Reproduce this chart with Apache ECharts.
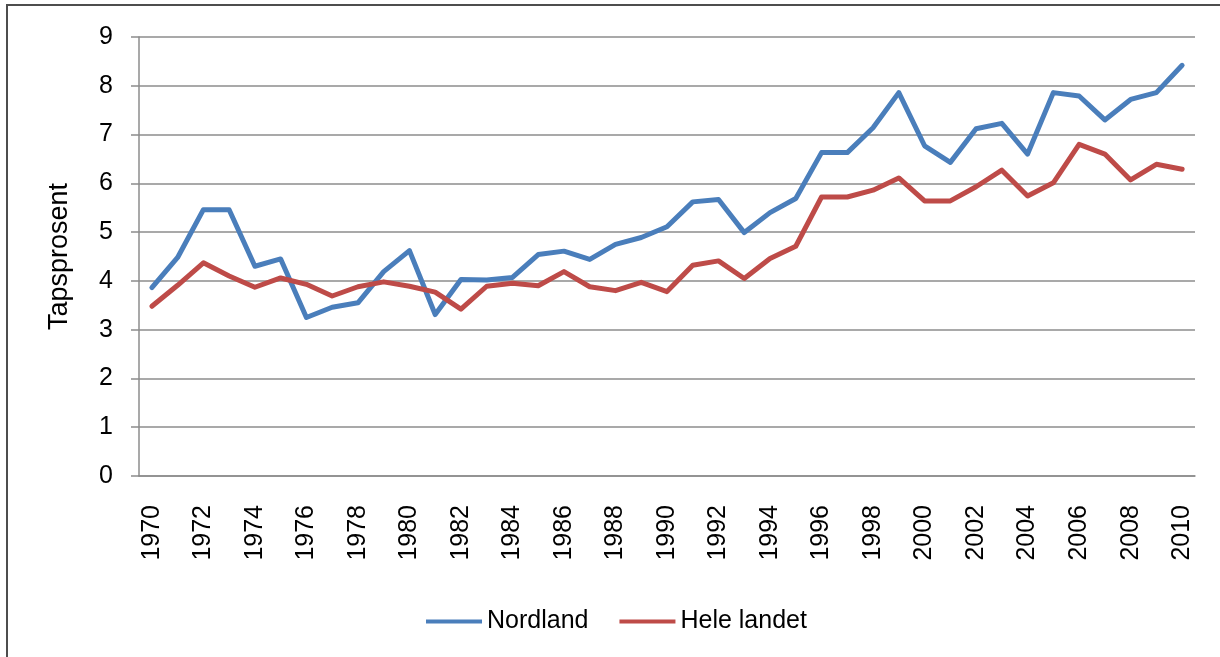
<!DOCTYPE html>
<html lang="no">

<head>
    <meta charset="UTF-8">
    <meta name="viewport" content="width=device-width, initial-scale=1.0">
    <script src="https://cdn.jsdelivr.net/npm/echarts@6.0.0/dist/echarts.min.js"></script>
    <title>Tapsprosent</title>
    <style>
        html, body { margin: 0; padding: 0; background: #fff; }
        #chart { width: 1220px; height: 657px; }
    </style>
</head>

<body>
    <div id="chart"></div>

    <script type="text/javascript">
        // årstall 1970-2010
        var years = [];
        for (var y = 1970; y <= 2010; y++) years.push(String(y));

        var nordland = [3.86, 4.48, 5.46, 5.46, 4.30, 4.45, 3.25, 3.46, 3.55, 4.19,
            4.62, 3.31, 4.03, 4.02, 4.07, 4.54, 4.61, 4.44, 4.75, 4.89,
            5.11, 5.62, 5.67, 4.99, 5.40, 5.69, 6.63, 6.63, 7.14, 7.86,
            6.77, 6.43, 7.12, 7.23, 6.60, 7.86, 7.79, 7.30, 7.72, 7.86,
            8.42];

        var heleLandet = [3.48, 3.91, 4.37, 4.10, 3.87, 4.06, 3.93, 3.69, 3.88, 3.98,
            3.89, 3.77, 3.42, 3.89, 3.95, 3.90, 4.19, 3.88, 3.80, 3.97,
            3.78, 4.32, 4.41, 4.05, 4.46, 4.71, 5.72, 5.72, 5.86, 6.11,
            5.64, 5.64, 5.93, 6.27, 5.74, 6.01, 6.80, 6.60, 6.07, 6.39,
            6.29];

        var font = 'Liberation Sans';
        var gridColor = '#8c8c8c';

        var chart = echarts.init(document.getElementById('chart'));

        var option = {
            animation: false,
            textStyle: { fontFamily: font },
            graphic: [{
                type: 'rect',
                shape: { x: 7, y: 5, width: 1300, height: 800 },
                style: { fill: 'none', stroke: '#4d4d4d', lineWidth: 2 },
                silent: true
            }],
            grid: {
                left: 139,
                right: 25,
                top: 37,
                bottom: 181
            },
            legend: {
                left: 421,
                top: 604,
                icon: 'rect',
                itemWidth: 56,
                itemHeight: 4,
                itemGap: 31,
                textStyle: { fontFamily: font, fontSize: 25, color: '#000', padding: [0, 0, 0, 0] },
                data: ['Nordland', 'Hele landet']
            },
            xAxis: {
                type: 'category',
                data: years,
                boundaryGap: true,
                axisLine: { lineStyle: { color: gridColor, width: 1.5 } },
                axisTick: {
                    interval: 0,
                    length: 8,
                    lineStyle: { color: gridColor, width: 1.5 }
                },
                axisLabel: {
                    interval: 1,
                    rotate: 90,
                    margin: 29,
                    color: '#000',
                    fontFamily: font,
                    fontSize: 25
                },
                splitLine: { show: false }
            },
            yAxis: {
                type: 'value',
                min: 0,
                max: 9,
                interval: 1,
                name: 'Tapsprosent',
                nameLocation: 'middle',
                nameGap: 66,
                nameTextStyle: { fontFamily: font, fontSize: 27, color: '#000' },
                axisLine: { show: true, lineStyle: { color: gridColor, width: 1.5 } },
                axisTick: {
                    show: true,
                    length: 8,
                    lineStyle: { color: gridColor, width: 1.5 }
                },
                axisLabel: {
                    margin: 26,
                    color: '#000',
                    fontFamily: font,
                    fontSize: 25
                },
                splitLine: { lineStyle: { color: gridColor, width: 1.5 } }
            },
            series: [
                {
                    name: 'Nordland',
                    type: 'line',
                    data: nordland,
                    symbol: 'none',
                    itemStyle: { color: '#4a7ebb' },
                    lineStyle: { color: '#4a7ebb', width: 5, join: 'round', cap: 'round' }
                },
                {
                    name: 'Hele landet',
                    type: 'line',
                    data: heleLandet,
                    symbol: 'none',
                    itemStyle: { color: '#be4b48' },
                    lineStyle: { color: '#be4b48', width: 5, join: 'round', cap: 'round' }
                }
            ]
        };
        chart.setOption(option);
    </script>
</body>

</html>
